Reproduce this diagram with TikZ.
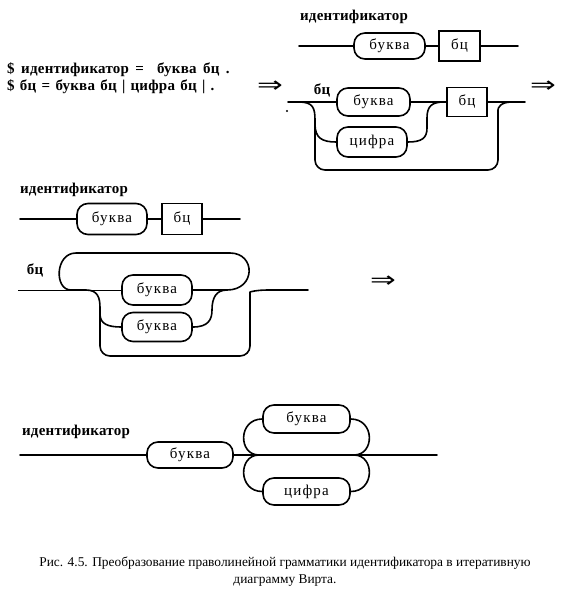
\documentclass[tikz,border=0pt]{standalone}
\usepackage{fontspec}
\usepackage{graphicx}
\setmainfont{Liberation Serif}
\newfontfamily\djv{DejaVu Sans}
\newcommand\dblarrow{\scalebox{1.4}[1]{⇒}}
\newcommand\widesp{\spaceskip=6.5pt\relax}
\newcommand\medsp{\spaceskip=5.3pt\relax}
\begin{document}
\begin{tikzpicture}[x=1pt,y=-1pt,
  ln/.style={line width=1.6pt, line cap=round, line join=round},
  thinln/.style={line width=0.8pt},
  term/.style={draw, line width=1.6pt, rounded corners=11pt, inner sep=0pt,
    font=\fontsize{15}{17}\selectfont\addfontfeatures{LetterSpace=8}},
  nbox/.style={draw, line width=1.6pt, inner sep=0pt,
    font=\fontsize{15}{17}\selectfont\addfontfeatures{LetterSpace=8}},
  ttl/.style={inner sep=0pt, font=\bfseries\fontsize{15}{17}\selectfont\addfontfeatures{LetterSpace=1.5}},
  gram/.style={inner sep=0pt, anchor=west,
    font=\bfseries\fontsize{15}{17}\selectfont\addfontfeatures{LetterSpace=1.5}},
  arr/.style={inner sep=0pt, font=\djv\fontsize{22}{24}\selectfont},
  captxt/.style={inner sep=0pt, align=center, font=\fontsize{13.4}{17}\selectfont}
]
\useasboundingbox (0,0) rectangle (570,600);

% grammar
\node[gram] (g1) at (7,70) {\widesp\$ идентификатор =\ \ буква бц .};
\node[gram] (g2) at (7,87) {\medsp\$ бц = буква бц | цифра бц | .};
\node[arr] (a1) at (270,87) {\dblarrow};
\fill (287,111) circle (1.1pt);

% diagram 1
\node[ttl] (t1) at (354,17) {идентификатор};
\coordinate (s1) at (299,46);
\node[term, minimum width=71pt, minimum height=26pt] (b1) at (389.5,46) {буква};
\node[nbox, minimum width=41pt, minimum height=30pt] (n1) at (459.5,46) {бц};
\coordinate (e1) at (518,46);
\draw[ln] (s1) -- (b1.west) (b1.east) -- (n1.west) (n1.east) -- (e1);

% diagram 2
\node[ttl] (t2) at (322,90) {бц};
\coordinate (s2) at (288,102);
\node[term, minimum width=73pt, minimum height=28pt] (b2) at (373.5,102) {буква};
\node[nbox, minimum width=40pt, minimum height=29pt] (n2) at (467,102) {бц};
\coordinate (e2) at (525,102);
\node[term, minimum width=70pt, minimum height=30pt] (c2) at (372,142) {цифра};
\coordinate (l2) at (299,102);
\coordinate (r2) at (512,102);
\coordinate (m2) at (444,102);
\draw[ln] (s2) -- (b2.west) (b2.east) -- (n2.west) (n2.east) -- (e2);
\draw[ln] (l2) .. controls (313,102) and (315,108) .. (315,120)
  [rounded corners=10pt] -- (315,170) -- (498,170) -- (498,120) [sharp corners]
  .. controls (498,108) and (500,102) .. (r2);
\draw[ln] (315,124) .. controls (315,138) and (322,142) .. (c2.west);
\draw[ln] (c2.east) .. controls (422,142) and (427,138) .. (427,128) -- (427,118)
  .. controls (427,106) and (432,102) .. (m2);
\node[arr] (a2) at (543,87) {\dblarrow};

% diagram 3
\node[ttl] (t3) at (74,190) {идентификатор};
\coordinate (s3) at (20,219);
\node[term, minimum width=70pt, minimum height=31pt] (b3) at (112,219) {буква};
\node[nbox, minimum width=40pt, minimum height=31pt] (n3) at (182,219) {бц};
\coordinate (e3) at (240,219);
\draw[ln] (s3) -- (b3.west) (b3.east) -- (n3.west) (n3.east) -- (e3);

% diagram 4
\node[ttl] (t4) at (35,270) {бц};
\coordinate (s4) at (18,290);
\node[term, minimum width=70pt, minimum height=30pt] (b4) at (157,290) {буква};
\node[term, minimum width=70pt, minimum height=29pt] (b5) at (157,327) {буква};
\coordinate (j4) at (71,290);
\coordinate (k4) at (227,290);
\coordinate (e4) at (308,290);
\draw[thinln] (s4) -- (b4.west);
\draw[ln] (j4) .. controls (54,290) and (55,253) .. (76,253) -- (230,253)
  .. controls (256,253) and (256,290) .. (k4);
\draw[ln] (b4.east) -- (k4);
\draw[ln] (b5.east) .. controls (208,327) and (212,320) .. (212,310)
  .. controls (212,298) and (216,290) .. (k4);
\draw[ln] (j4) -- (86,290) .. controls (98,290) and (100,298) .. (100,308)
  [rounded corners=10pt] -- (100,356) -- (250,356) -- (250,302) [sharp corners]
  .. controls (250,292) and (256,290) .. (268,290) -- (e4);
\draw[ln] (100,314) .. controls (100,324) and (108,327) .. (b5.west);
\node[arr] (a3) at (383,282) {\dblarrow};

% diagram 5
\node[ttl] (t5) at (76,432) {идентификатор};
\coordinate (s5) at (20,455);
\node[term, minimum width=86pt, minimum height=26pt] (b6) at (190,455) {буква};
\coordinate (e5) at (437,455);
\node[term, minimum width=87pt, minimum height=28pt] (b7) at (306.5,419) {буква};
\node[term, minimum width=87pt, minimum height=27pt] (c7) at (306.5,491.5) {цифра};
\coordinate (jl) at (259,455);
\coordinate (jr) at (354,455);
\draw[ln] (s5) -- (b6.west) (b6.east) -- (e5);
\draw[ln] (b7.west) .. controls (238,419) and (238,455) .. (jl);
\draw[ln] (jl) .. controls (238,455) and (238,491.5) .. (c7.west);
\draw[ln] (b7.east) .. controls (375,419) and (375,455) .. (jr);
\draw[ln] (jr) .. controls (375,455) and (375,491.5) .. (c7.east);

% caption
\node[captxt] (cap) at (285,571.5) {Рис. 4.5. Преобразование праволинейной грамматики идентификатора в итеративную\\диаграмму Вирта.};
\end{tikzpicture}
\end{document}
